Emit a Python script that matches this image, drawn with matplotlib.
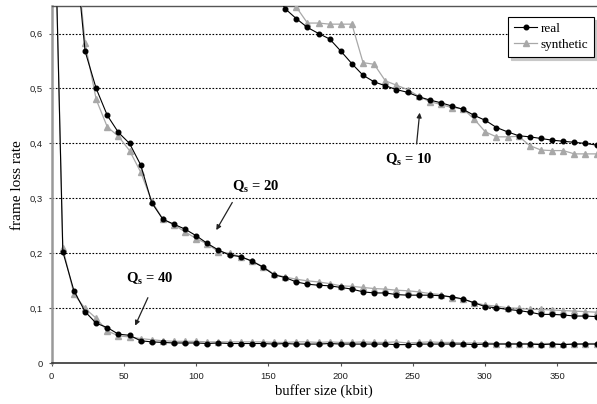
import matplotlib
matplotlib.use("Agg")
import matplotlib.pyplot as plt
from matplotlib.lines import Line2D

plt.rcParams['mathtext.fontset'] = 'custom'
plt.rcParams['mathtext.rm'] = 'Liberation Serif'
plt.rcParams['mathtext.bf'] = 'Liberation Serif:bold'

# buffer size in kbit (one point every ~7.7 kbit)
buffer_kbit = [0, 7.7, 15.4, 23.1, 30.8, 38.5, 46.2, 53.9, 61.6, 69.3,
               77.0, 84.7, 92.4, 100.1, 107.8, 115.5, 123.2, 130.9, 138.6, 146.3,
               154.0, 161.7, 169.4, 177.1, 184.8, 192.5, 200.2, 207.9, 215.6, 223.3,
               231.0, 238.7, 246.4, 254.1, 261.8, 269.5, 277.2, 284.9, 292.6, 300.3,
               308.0, 315.7, 323.4, 331.1, 338.8, 346.5, 354.2, 361.9, 369.6, 377.3]

# Qs = 40, all points
q40_real = [1.05, 0.203, 0.132, 0.094, 0.073, 0.065, 0.053, 0.051, 0.041, 0.039,
            0.038, 0.037, 0.037, 0.037, 0.036, 0.037, 0.036, 0.036, 0.036, 0.036,
            0.035, 0.036, 0.035, 0.035, 0.035, 0.036, 0.035, 0.035, 0.035, 0.035,
            0.035, 0.034, 0.034, 0.035, 0.035, 0.035, 0.035, 0.035, 0.034, 0.035,
            0.035, 0.035, 0.035, 0.035, 0.034, 0.035, 0.034, 0.035, 0.035, 0.035]
q40_synth = [1.05, 0.210, 0.126, 0.100, 0.082, 0.059, 0.050, 0.048, 0.045, 0.043,
             0.041, 0.040, 0.040, 0.040, 0.039, 0.039, 0.039, 0.039, 0.039, 0.039,
             0.038, 0.038, 0.039, 0.039, 0.038, 0.039, 0.038, 0.038, 0.039, 0.038,
             0.038, 0.039, 0.037, 0.038, 0.039, 0.038, 0.038, 0.037, 0.037, 0.037,
             0.036, 0.036, 0.036, 0.036, 0.036, 0.036, 0.035, 0.035, 0.036, 0.036]

# Qs = 20, from the 3rd buffer size on
q20_real = [0.78, 0.568, 0.500, 0.451, 0.420, 0.400, 0.361, 0.292, 0.262, 0.253,
            0.244, 0.232, 0.218, 0.206, 0.197, 0.194, 0.186, 0.175, 0.161, 0.156,
            0.148, 0.144, 0.142, 0.141, 0.138, 0.135, 0.130, 0.128, 0.128, 0.125,
            0.124, 0.124, 0.124, 0.123, 0.121, 0.117, 0.110, 0.103, 0.101, 0.098,
            0.096, 0.093, 0.089, 0.089, 0.088, 0.086, 0.086, 0.085]
q20_synth = [0.79, 0.583, 0.480, 0.430, 0.413, 0.387, 0.348, 0.295, 0.262, 0.252,
             0.239, 0.227, 0.217, 0.203, 0.200, 0.194, 0.186, 0.176, 0.162, 0.157,
             0.153, 0.150, 0.148, 0.145, 0.141, 0.140, 0.138, 0.136, 0.135, 0.133,
             0.132, 0.130, 0.127, 0.125, 0.119, 0.117, 0.110, 0.106, 0.104, 0.101,
             0.100, 0.098, 0.098, 0.097, 0.096, 0.095, 0.094, 0.093]

# Qs = 10, from the 19th buffer size on
q10_real = [0.76, 0.72, 0.68, 0.645, 0.627, 0.611, 0.600, 0.590, 0.568, 0.545,
            0.524, 0.512, 0.505, 0.498, 0.493, 0.485, 0.479, 0.474, 0.468, 0.462,
            0.451, 0.442, 0.429, 0.421, 0.414, 0.412, 0.409, 0.406, 0.404, 0.402,
            0.400, 0.397]
q10_synth = [0.78, 0.76, 0.74, 0.70, 0.648, 0.619, 0.619, 0.617, 0.617, 0.617,
             0.547, 0.544, 0.514, 0.506, 0.498, 0.486, 0.476, 0.471, 0.465, 0.463,
             0.444, 0.421, 0.412, 0.412, 0.413, 0.396, 0.388, 0.387, 0.387, 0.381,
             0.381, 0.381]

y_ticks = [0, 0.1, 0.2, 0.3, 0.4, 0.5, 0.6]
y_ticklabels = ['0', '0,1', '0,2', '0,3', '0,4', '0,5', '0,6']
x_ticks = [0, 50, 100, 150, 200, 250, 300, 350]

fig = plt.figure(figsize=(5.97, 4.04), dpi=100)
ax = fig.add_axes([0.0866, 0.1007, 0.9134, 0.8844])

gray = '#a8a8a8'
synth_style = dict(color=gray, lw=0.9, marker='^', ms=4.2, mec=gray, mfc=gray)
real_style = dict(color='black', lw=0.8, marker='o', ms=3.3, mec='black', mfc='black')

series = [(0, q40_real, q40_synth), (2, q20_real, q20_synth), (18, q10_real, q10_synth)]
for start, real, synth in series:
    xs = buffer_kbit[start:]
    ax.plot(xs, synth, zorder=3, **synth_style)
    ax.plot(xs, real, zorder=4, **real_style)

ax.set_xlim(0, 377.6)
ax.set_ylim(0, 0.65)
ax.set_yticks(y_ticks)
ax.set_yticklabels(y_ticklabels)
ax.set_xticks(x_ticks)
for lab in ax.get_xticklabels() + ax.get_yticklabels():
    lab.set_fontfamily('Liberation Sans')
    lab.set_fontsize(6.8)
    lab.set_color('#222222')
ax.tick_params(axis='both', length=2.5, width=0.8, color='#555555', pad=4)

for y in y_ticks[1:]:
    ax.axhline(y, color='black', lw=0.8, ls=(0, (1.5, 1.5)), zorder=1)

ax.spines['right'].set_visible(False)
ax.spines['top'].set_color('#555555')
ax.spines['top'].set_linewidth(1.0)
ax.spines['left'].set_color('#999999')
ax.spines['left'].set_linewidth(1.8)
ax.spines['bottom'].set_color('#333333')
ax.spines['bottom'].set_linewidth(1.2)

ax.set_xlabel('buffer size (kbit)', family='Liberation Serif', fontsize=10.5, labelpad=2)
ax.set_ylabel('frame loss rate', family='Liberation Serif', fontsize=11, labelpad=4)

label_kw = dict(fontsize=10.5, ha='center', va='center')
ax.text(141, 0.32, r'$\mathbf{Q_s}$' + ' = 20', family='Liberation Serif', weight='bold', **label_kw)
ax.text(68, 0.153, r'$\mathbf{Q_s}$' + ' = 40', family='Liberation Serif', weight='bold', **label_kw)
ax.text(247, 0.37, r'$\mathbf{Q_s}$' + ' = 10', family='Liberation Serif', weight='bold', **label_kw)

arrow_kw = dict(arrowstyle='-|>', color='#222222', lw=0.9, mutation_scale=7)
ax.annotate('', xy=(113, 0.238), xytext=(126, 0.297), arrowprops=arrow_kw)
ax.annotate('', xy=(57, 0.064), xytext=(67.4, 0.124), arrowprops=arrow_kw)
ax.annotate('', xy=(255, 0.461), xytext=(252.5, 0.394), arrowprops=arrow_kw)

handles = [Line2D([], [], **real_style), Line2D([], [], **synth_style)]
leg = ax.legend(handles, ['real', 'synthetic'], loc='upper right',
                bbox_to_anchor=(0.995, 0.97), borderaxespad=0, fancybox=False,
                shadow={'color': '#c8c8c8', 'alpha': 1.0}, framealpha=1,
                handlelength=1.8, handletextpad=0.25, borderpad=0.45,
                labelspacing=0.3, prop={'family': 'Liberation Serif', 'size': 9.5})
leg.get_frame().set_edgecolor('black')
leg.get_frame().set_linewidth(0.8)

fig.savefig('out.png', dpi=100)
